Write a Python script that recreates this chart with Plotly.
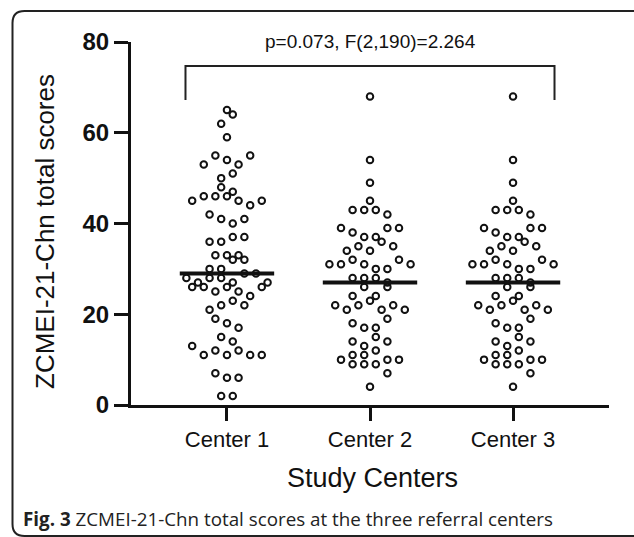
import plotly.graph_objects as go

categories = ["Center 1", "Center 2", "Center 3"]
center1_scores = [2, 2, 7, 6, 6, 13, 11, 12, 11, 12, 11, 11, 15, 14, 19, 18, 17,
                  21, 22, 23, 22, 26, 26, 25, 26, 25, 24, 26, 28, 27, 28, 28, 27, 29, 29, 27,
                  30, 30, 32, 32, 33, 33, 33, 36, 36, 37, 37, 42, 41, 40, 41,
                  45, 46, 46, 46, 45, 44, 45, 48, 47, 50, 51, 53, 55, 54, 53, 55, 59, 62, 64, 65]
center2_scores = [4, 9, 9, 9, 7, 10, 11, 11, 12, 10, 10, 14, 13, 15, 14, 18, 17, 17, 19,
                  22, 21, 22, 23, 21, 22, 21, 24, 26, 24, 26, 28, 28, 28, 27,
                  31, 31, 32, 31, 30, 30, 32, 31, 34, 35, 34, 36, 35, 39, 38, 37, 37, 39, 39,
                  43, 43, 43, 42, 45, 49, 54, 68]
center3_scores = [4, 9, 9, 9, 7, 10, 11, 11, 12, 10, 10, 14, 13, 15, 14, 18, 17, 17, 19,
                  22, 21, 22, 23, 21, 22, 21, 24, 26, 24, 26, 28, 28, 28, 27,
                  31, 31, 32, 31, 30, 30, 32, 31, 34, 35, 34, 36, 35, 39, 38, 37, 37, 39, 39,
                  43, 43, 43, 42, 45, 49, 54, 68]
y_tick_values = [0, 20, 40, 60, 80]
stat_label = "p=0.073, F(2,190)=2.264"
x_title = "Study Centers"
y_title = "ZCMEI-21-Chn total scores"
caption_bold = "Fig. 3"
caption_text = "ZCMEI-21-Chn total scores at the three referral centers"

groups = [center1_scores, center2_scores, center3_scores]

# ---- geometry ----
W, H = 634, 537
L, R, T, B = 131, 25, 42, 132
plot_w = W - L - R
plot_h = H - T - B
Y_MAX = 80
px_per_unit_y = plot_h / Y_MAX
x_range = [-0.671, 2.671]
px_per_cat = plot_w / (x_range[1] - x_range[0])


def median(v):
    s = sorted(v)
    n = len(s)
    return s[n // 2] if n % 2 else (s[n // 2 - 1] + s[n // 2]) / 2


def scatter_offsets(vals, window=3, step_px=5.8):
    """Prism-like scatter: group values lying within a window, spread each group
    symmetrically around the centre with a spacing of two steps."""
    offs = [0.0] * len(vals)
    remaining = sorted(set(vals))
    while remaining:
        lo = remaining[0]
        members = [v for v in remaining if v < lo + window]
        remaining = [v for v in remaining if v >= lo + window]
        idx = [i for i, v in enumerate(vals) if v in members]
        n = len(idx)
        for j, i in enumerate(idx):
            k = -(n - 1) + 2 * j
            offs[i] = k * step_px / px_per_cat
    return offs


def px2paper_x(px):
    return (px - L) / plot_w


def px2paper_y(py):
    return (H - B - py) / plot_h


FONT = "Liberation Sans, Arial, sans-serif"

fig = go.Figure()
for gi, vals in enumerate(groups):
    offs = scatter_offsets(vals)
    fig.add_trace(go.Scatter(
        x=[gi + o for o in offs], y=vals, mode="markers",
        marker=dict(symbol="circle-open", size=6.5, color="#111111",
                    line=dict(width=2, color="#111111")),
        cliponaxis=False, showlegend=False, hoverinfo="y"))

shapes = []
for gi, vals in enumerate(groups):
    m = median(vals)
    shapes.append(dict(type="line", xref="x", yref="y", x0=gi - 0.33, x1=gi + 0.33,
                       y0=m, y1=m, line=dict(color="#111111", width=4)))

# significance bracket
shapes.append(dict(type="path", xref="x", yref="y",
                   path="M -0.29 67.2 L -0.29 74.7 L 2.29 74.7 L 2.29 67.2",
                   line=dict(color="#222222", width=2)))

# figure frame (rounded, left + top + bottom)
fx = px2paper_x(12.5)
fr = px2paper_x(640)
rad_x = 12 / plot_w
rad_y = 12 / plot_h
ytop = px2paper_y(11)
ybot = px2paper_y(536)
frame = (f"M {fr} {ytop} L {fx + rad_x} {ytop} Q {fx} {ytop} {fx} {ytop - rad_y} "
         f"L {fx} {ybot + rad_y} Q {fx} {ybot} {fx + rad_x} {ybot} L {fr} {ybot}")
shapes.append(dict(type="path", xref="paper", yref="paper", path=frame,
                   line=dict(color="#222222", width=2)))

annotations = [
    dict(text=stat_label, x=0.5, y=px2paper_y(41), xref="paper", yref="paper",
         showarrow=False, font=dict(family=FONT, size=19, color="#111111"),
         xanchor="center", yanchor="middle"),
    dict(text=x_title, x=px2paper_x(372), y=px2paper_y(478), xref="paper", yref="paper",
         showarrow=False, font=dict(family=FONT, size=27, color="#111111"),
         xanchor="center", yanchor="middle"),
    dict(text=y_title, x=px2paper_x(45), y=px2paper_y(232), xref="paper", yref="paper",
         showarrow=False, textangle=-90, font=dict(family=FONT, size=26, color="#111111"),
         xanchor="center", yanchor="middle"),
    dict(text=f"<b>{caption_bold}</b> {caption_text}", x=px2paper_x(21), y=px2paper_y(519),
         xref="paper", yref="paper", showarrow=False,
         font=dict(family="Open Sans, sans-serif", size=18.8, color="#222222"),
         xanchor="left", yanchor="middle"),
]

fig.update_layout(
    width=W, height=H, margin=dict(l=L, r=R, t=T, b=B, autoexpand=False),
    paper_bgcolor="white", plot_bgcolor="white",
    shapes=shapes, annotations=annotations,
    xaxis=dict(range=x_range, tickvals=[0, 1, 2], ticktext=categories,
               showline=True, linewidth=3, linecolor="#111111", ticks="outside",
               ticklen=13, tickwidth=3, tickcolor="#111111", showgrid=False, zeroline=False,
               tickfont=dict(family=FONT, size=22, color="#111111")),
    yaxis=dict(range=[0, Y_MAX], tickvals=y_tick_values,
               showline=True, linewidth=3, linecolor="#111111", ticks="outside",
               ticklen=14, tickwidth=3, tickcolor="#111111", showgrid=False, zeroline=False,
               tickfont=dict(family=FONT, size=24, color="#111111", weight="bold")),
)

fig.write_html("out.html", config={"displayModeBar": False},
               post_script="document.body.style.margin='0px';")
